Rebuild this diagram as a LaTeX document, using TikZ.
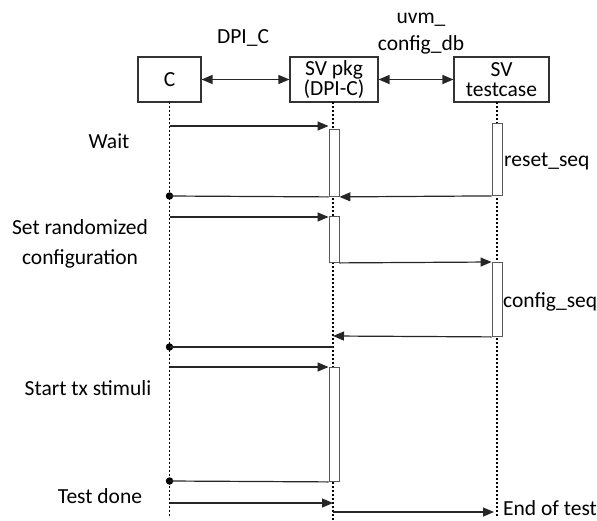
\documentclass[tikz,border=0pt]{standalone}
\usepackage{fontspec}
\setmainfont{Carlito}
\usetikzlibrary{arrows.meta}
\begin{document}
\begin{tikzpicture}[x=1pt,y=-1pt,
  every node/.style={font=\fontsize{21.5}{19.5}\selectfont, text=black},
  headbox/.style={draw=black!80, line width=1.1pt, fill=white, inner sep=0pt},
  lifeline/.style={black, line width=1.6pt, dash pattern=on 2.4pt off 1.6pt},
  actbar/.style={draw=black!65, line width=0.9pt, fill=white, minimum width=10pt, inner sep=0pt, anchor=north},
  msg/.style={black!85, line width=1.2pt, -{Triangle[length=11pt,width=9pt]}},
  dmsg/.style={black!85, line width=1.2pt, {Triangle[length=11pt,width=9pt]}-{Triangle[length=11pt,width=9pt]}},
  plain/.style={black!85, line width=1.2pt},
  lbl/.style={anchor=base, inner sep=0pt},
  dot/.style={circle, fill=black, inner sep=0pt, minimum size=7.5pt}
]
\useasboundingbox (0,0) rectangle (597,520);

% header boxes
\node[headbox, minimum width=63pt, minimum height=45pt] (C) at (169.5,79.5) {C};
\node[headbox, minimum width=88pt, minimum height=45pt, align=center] (P) at (334,79.5) {SV pkg\\(DPI-C)};
\node[headbox, minimum width=95pt, minimum height=45pt, align=center] (T) at (501.5,79.5) {SV\\testcase};

% top labels
\node[lbl] (dpi) at (243,43) {DPI\_C};
\node[lbl] (uvm1) at (421,23) {uvm\_};
\node[lbl] (uvm2) at (421,50) {config\_db};

% interface arrows
\draw[dmsg] (C.east) -- (P.west);
\draw[dmsg] (P.east) -- (T.west);

% lifelines
\coordinate (cl0) at (169.5,102);
\coordinate (cl1) at (169.5,516);
\coordinate (pl0) at (333,102);
\coordinate (pl1) at (333,520);
\coordinate (tl0) at (497,102);
\coordinate (tl1) at (497,517);
\draw[lifeline] (cl0) -- (cl1);
\draw[lifeline] (pl0) -- (pl1);
\draw[lifeline] (tl0) -- (tl1);

% activation bars
\node[actbar, minimum height=67pt] (p1) at (334,129) {};
\node[actbar, minimum height=72pt] (t1) at (497,123) {};
\node[actbar, minimum height=46pt] (p2) at (334,216) {};
\node[actbar, minimum height=74pt] (t2) at (497,262) {};
\node[actbar, minimum height=114pt] (p3) at (334,367) {};

% messages
\coordinate (m1) at (169.5,126);
\draw[msg] (m1) -- (m1 -| p1.west);

\draw[msg] (t1.south west) -- (p1.south east);
\node[dot] (d1) at (169.5,196) {};
\draw[plain] (d1.center) -- (p1.south west);

\coordinate (m2) at (169.5,217);
\draw[msg] (m2) -- (m2 -| p2.west);

\draw[msg] (p2.south east) -- (t2.north west);

\coordinate (m3) at (333,336);
\draw[msg] (t2.south west) -- (m3);
\node[dot] (d2) at (169.5,347) {};
\coordinate (m4) at (333,347);
\draw[plain] (d2.center) -- (m4);

\coordinate (m5) at (169.5,367);
\draw[msg] (m5) -- (m5 -| p3.west);
\node[dot] (d3) at (169.5,481) {};
\draw[plain] (d3.center) -- (p3.south west);

\coordinate (m6) at (169.5,503);
\coordinate (m7) at (333,503);
\draw[msg] (m6) -- (m7);
\coordinate (m8) at (333,512);
\coordinate (m9) at (494,512);
\draw[msg] (m8) -- (m9);

% side labels
\node[lbl] (wait) at (109,148) {Wait};
\node[lbl, align=center, font=\fontsize{21.5}{30}\selectfont] (setr) at (80,264) {Set randomized\\configuration};
\node[lbl] (start) at (88,395) {Start tx stimuli};
\node[lbl] (done) at (100,503) {Test done};
\node[lbl, anchor=base west] (reset) at (504,166) {reset\_seq};
\node[lbl, anchor=base west] (cfg) at (503,307) {config\_seq};
\node[lbl, anchor=base west] (eot) at (503,515) {End of test};
\end{tikzpicture}
\end{document}
